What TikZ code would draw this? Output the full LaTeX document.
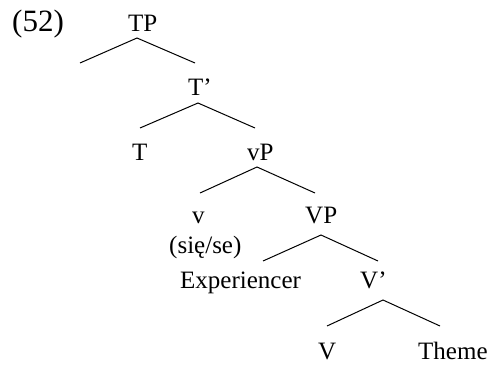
\documentclass[tikz,border=0pt]{standalone}
\usepackage{fontspec}
\setmainfont{Liberation Serif}
\begin{document}
\begin{tikzpicture}[x=1pt,y=-1pt,
  lbl/.style={anchor=base west,inner sep=0pt,font=\fontsize{25}{30}\selectfont},
  branch/.style={line width=1pt}]
\useasboundingbox (0,0) rectangle (492,364);
% labels
\node[lbl,font=\fontsize{31}{36}\selectfont] (ex) at (12,31) {(52)};
\node[lbl] (tp) at (128,31) {TP};
\node[lbl] (tbar) at (188,95) {T’};
\node[lbl] (t) at (132,160) {T};
\node[lbl] (vp) at (247,160) {vP};
\node[lbl] (v) at (192,223) {v};
\node[lbl] (bigvp) at (305,223) {VP};
\node[lbl] (sie) at (169,253) {(się/se)};
\node[lbl] (exp) at (180,288) {Experiencer};
\node[lbl] (vbar) at (360,288) {V’};
\node[lbl] (bigv) at (318,359) {V};
\node[lbl] (theme) at (418,359) {Theme};
% branch points
\coordinate (tpA) at (137,38);  \coordinate (tpL) at (80,63);   \coordinate (tpR) at (195,63);
\coordinate (tbA) at (198,103); \coordinate (tbL) at (140,128); \coordinate (tbR) at (255,128);
\coordinate (vpA) at (257,167); \coordinate (vpL) at (200,193); \coordinate (vpR) at (315,193);
\coordinate (VPA) at (321,235); \coordinate (VPL) at (263,261); \coordinate (VPR) at (378,261);
\coordinate (vbA) at (383,300); \coordinate (vbL) at (327,326); \coordinate (vbR) at (440,326);
% branches
\foreach \n in {tp,tb,vp,VP,vb}{
  \draw[branch] (\n L) -- (\n A) -- (\n R);
}
\end{tikzpicture}
\end{document}
